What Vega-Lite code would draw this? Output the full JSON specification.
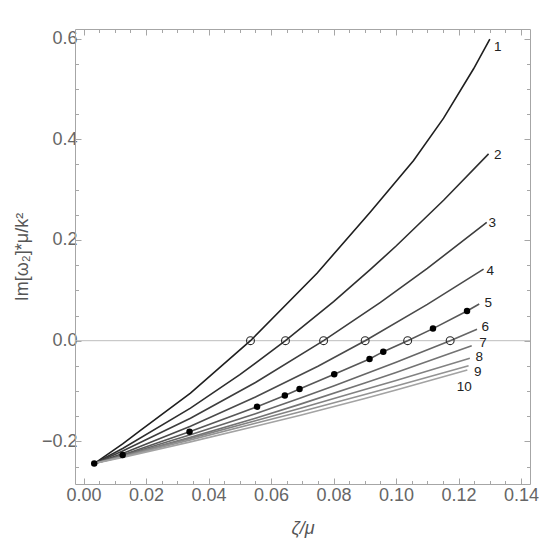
{
  "$schema": "https://vega.github.io/schema/vega-lite/v6.json",
  "width": 455,
  "height": 455,
  "autosize": {"type": "none"},
  "padding": {"left": 75, "top": 29, "right": 30, "bottom": 58},
  "background": "white",
  "config": {
    "view": {"stroke": null},
    "axis": {
      "grid": false,
      "domainColor": "#a6a6a6",
      "tickColor": "#a6a6a6",
      "labelFont": "Liberation Sans",
      "labelFontSize": 18,
      "labelColor": "#666666",
      "titleFont": "Liberation Sans",
      "titleFontSize": 18,
      "titleColor": "#555555",
      "titleFontWeight": "normal",
      "labelOverlap": false,
      "labelFlush": false
    }
  },
  "datasets": {
    "curves": [
      {"curve": 1, "x": 0.0034, "y": -0.244}, {"curve": 1, "x": 0.0125, "y": -0.205}, {"curve": 1, "x": 0.0182, "y": -0.178}, {"curve": 1, "x": 0.0342, "y": -0.104}, {"curve": 1, "x": 0.0534, "y": 0.0}, {"curve": 1, "x": 0.0747, "y": 0.134}, {"curve": 1, "x": 0.0917, "y": 0.255}, {"curve": 1, "x": 0.1056, "y": 0.358}, {"curve": 1, "x": 0.1152, "y": 0.442}, {"curve": 1, "x": 0.1248, "y": 0.540}, {"curve": 1, "x": 0.130, "y": 0.599},
      {"curve": 2, "x": 0.0034, "y": -0.244}, {"curve": 2, "x": 0.0125, "y": -0.214}, {"curve": 2, "x": 0.0342, "y": -0.134}, {"curve": 2, "x": 0.050, "y": -0.0675}, {"curve": 2, "x": 0.0646, "y": 0.0}, {"curve": 2, "x": 0.080, "y": 0.0775}, {"curve": 2, "x": 0.0917, "y": 0.141}, {"curve": 2, "x": 0.100, "y": 0.188}, {"curve": 2, "x": 0.1152, "y": 0.279}, {"curve": 2, "x": 0.1296, "y": 0.371},
      {"curve": 3, "x": 0.0034, "y": -0.244}, {"curve": 3, "x": 0.0125, "y": -0.219}, {"curve": 3, "x": 0.0342, "y": -0.154}, {"curve": 3, "x": 0.055, "y": -0.083}, {"curve": 3, "x": 0.0768, "y": 0.0}, {"curve": 3, "x": 0.095, "y": 0.076}, {"curve": 3, "x": 0.110, "y": 0.1435}, {"curve": 3, "x": 0.129, "y": 0.235},
      {"curve": 4, "x": 0.0034, "y": -0.244}, {"curve": 4, "x": 0.0125, "y": -0.224}, {"curve": 4, "x": 0.0342, "y": -0.170}, {"curve": 4, "x": 0.055, "y": -0.112}, {"curve": 4, "x": 0.075, "y": -0.0506}, {"curve": 4, "x": 0.0901, "y": 0.0}, {"curve": 4, "x": 0.110, "y": 0.072}, {"curve": 4, "x": 0.128, "y": 0.142},
      {"curve": 5, "x": 0.0034, "y": -0.244}, {"curve": 5, "x": 0.0125, "y": -0.227}, {"curve": 5, "x": 0.0339, "y": -0.181}, {"curve": 5, "x": 0.0555, "y": -0.131}, {"curve": 5, "x": 0.0644, "y": -0.109}, {"curve": 5, "x": 0.0691, "y": -0.096}, {"curve": 5, "x": 0.0802, "y": -0.0668}, {"curve": 5, "x": 0.0915, "y": -0.0364}, {"curve": 5, "x": 0.0959, "y": -0.0218}, {"curve": 5, "x": 0.1037, "y": 0.0}, {"curve": 5, "x": 0.1118, "y": 0.024}, {"curve": 5, "x": 0.1227, "y": 0.059}, {"curve": 5, "x": 0.1266, "y": 0.073},
      {"curve": 6, "x": 0.0034, "y": -0.244}, {"curve": 6, "x": 0.0125, "y": -0.228}, {"curve": 6, "x": 0.0342, "y": -0.187}, {"curve": 6, "x": 0.055, "y": -0.145}, {"curve": 6, "x": 0.0694, "y": -0.114}, {"curve": 6, "x": 0.080, "y": -0.090}, {"curve": 6, "x": 0.100, "y": -0.043}, {"curve": 6, "x": 0.1173, "y": 0.0}, {"curve": 6, "x": 0.1259, "y": 0.0226},
      {"curve": 7, "x": 0.0034, "y": -0.244}, {"curve": 7, "x": 0.0125, "y": -0.229}, {"curve": 7, "x": 0.0342, "y": -0.192}, {"curve": 7, "x": 0.055, "y": -0.154}, {"curve": 7, "x": 0.0694, "y": -0.126}, {"curve": 7, "x": 0.090, "y": -0.084}, {"curve": 7, "x": 0.100, "y": -0.063}, {"curve": 7, "x": 0.1242, "y": -0.010},
      {"curve": 8, "x": 0.0034, "y": -0.244}, {"curve": 8, "x": 0.0125, "y": -0.2295}, {"curve": 8, "x": 0.0342, "y": -0.194}, {"curve": 8, "x": 0.055, "y": -0.159}, {"curve": 8, "x": 0.0694, "y": -0.134}, {"curve": 8, "x": 0.090, "y": -0.097}, {"curve": 8, "x": 0.100, "y": -0.079}, {"curve": 8, "x": 0.1236, "y": -0.035},
      {"curve": 9, "x": 0.0034, "y": -0.244}, {"curve": 9, "x": 0.0125, "y": -0.2304}, {"curve": 9, "x": 0.0342, "y": -0.197}, {"curve": 9, "x": 0.055, "y": -0.164}, {"curve": 9, "x": 0.0694, "y": -0.141}, {"curve": 9, "x": 0.090, "y": -0.107}, {"curve": 9, "x": 0.100, "y": -0.090}, {"curve": 9, "x": 0.1232, "y": -0.0496},
      {"curve": 10, "x": 0.0034, "y": -0.244}, {"curve": 10, "x": 0.0125, "y": -0.2317}, {"curve": 10, "x": 0.0342, "y": -0.201}, {"curve": 10, "x": 0.055, "y": -0.170}, {"curve": 10, "x": 0.0694, "y": -0.148}, {"curve": 10, "x": 0.090, "y": -0.115}, {"curve": 10, "x": 0.100, "y": -0.098}, {"curve": 10, "x": 0.1228, "y": -0.058}
    ],
    "crossings": [
      {"curve": 1, "x": 0.0534, "y": 0}, {"curve": 2, "x": 0.0646, "y": 0}, {"curve": 3, "x": 0.0768, "y": 0},
      {"curve": 4, "x": 0.0901, "y": 0}, {"curve": 5, "x": 0.1037, "y": 0}, {"curve": 6, "x": 0.1173, "y": 0}
    ],
    "dots": [
      {"x": 0.0034, "y": -0.244}, {"x": 0.0125, "y": -0.227}, {"x": 0.0339, "y": -0.181}, {"x": 0.0555, "y": -0.131},
      {"x": 0.0644, "y": -0.109}, {"x": 0.0691, "y": -0.096}, {"x": 0.0802, "y": -0.0668}, {"x": 0.0915, "y": -0.0364},
      {"x": 0.0959, "y": -0.0218}, {"x": 0.1118, "y": 0.024}, {"x": 0.1227, "y": 0.059}
    ],
    "labels": [
      {"label": "1", "x": 0.1325, "y": 0.584}, {"label": "2", "x": 0.1325, "y": 0.369}, {"label": "3", "x": 0.1308, "y": 0.233},
      {"label": "4", "x": 0.1301, "y": 0.139}, {"label": "5", "x": 0.1295, "y": 0.0743}, {"label": "6", "x": 0.1285, "y": 0.0262},
      {"label": "7", "x": 0.1278, "y": -0.0050}, {"label": "8", "x": 0.1266, "y": -0.0330}, {"label": "9", "x": 0.1261, "y": -0.0625},
      {"label": "10", "x": 0.1218, "y": -0.092}
    ],
    "zero": [{"y": 0}]
  },
  "layer": [
    {
      "data": {"name": "zero"},
      "mark": {"type": "rule", "color": "#bdbdbd", "strokeWidth": 1},
      "encoding": {
        "y": {"field": "y", "type": "quantitative", "scale": {"domain": [-0.2846, 0.619], "nice": false, "zero": false}, "axis": null}
      }
    },
    {
      "data": {"name": "curves"},
      "mark": {"type": "line", "strokeWidth": 1.6},
      "encoding": {
        "x": {
          "field": "x", "type": "quantitative",
          "scale": {"domain": [-0.00275, 0.14285], "nice": false, "zero": false},
          "axis": {
            "orient": "bottom",
            "values": [0, 0.005, 0.01, 0.015, 0.02, 0.025, 0.03, 0.035, 0.04, 0.045, 0.05, 0.055, 0.06, 0.065, 0.07, 0.075, 0.08, 0.085, 0.09, 0.095, 0.1, 0.105, 0.11, 0.115, 0.12, 0.125, 0.13, 0.135, 0.14],
            "tickSize": {"condition": {"test": "abs(datum.value*50-round(datum.value*50))<1e-6", "value": -6}, "value": -3.5},
            "labelExpr": "abs(datum.value*50-round(datum.value*50))<1e-6 ? format(datum.value,'.2f') : ''",
            "labelPadding": 8,
            "title": "ζ/μ",
            "titleFontStyle": "italic",
            "titlePadding": 13
          }
        },
        "y": {
          "field": "y", "type": "quantitative",
          "scale": {"domain": [-0.2846, 0.619], "nice": false, "zero": false},
          "axis": {
            "orient": "left",
            "values": [-0.25, -0.2, -0.15, -0.1, -0.05, 0, 0.05, 0.1, 0.15, 0.2, 0.25, 0.3, 0.35, 0.4, 0.45, 0.5, 0.55, 0.6],
            "tickSize": {"condition": {"test": "abs(datum.value*5-round(datum.value*5))<1e-6", "value": -6}, "value": -3.5},
            "labelExpr": "abs(datum.value*5-round(datum.value*5))<1e-6 ? format(datum.value,'.1f') : ''",
            "labelPadding": 4,
            "title": "Im[ω₂]*μ/k²",
            "titlePadding": 10
          }
        },
        "color": {
          "field": "curve", "type": "nominal",
          "scale": {"domain": [1, 2, 3, 4, 5, 6, 7, 8, 9, 10], "range": ["#1f1f1f", "#2e2e2e", "#3d3d3d", "#4a4a4a", "#575757", "#666666", "#737373", "#828282", "#939393", "#a3a3a3"]},
          "legend": null
        }
      }
    },
    {
      "data": {"name": "crossings"},
      "mark": {"type": "point", "shape": "circle", "filled": false, "size": 62, "stroke": "#2a2a2a", "strokeWidth": 1.1, "opacity": 1},
      "encoding": {
        "x": {
          "field": "x", "type": "quantitative",
          "scale": {"domain": [-0.00275, 0.14285], "nice": false, "zero": false},
          "axis": {
            "orient": "top",
            "values": [0, 0.005, 0.01, 0.015, 0.02, 0.025, 0.03, 0.035, 0.04, 0.045, 0.05, 0.055, 0.06, 0.065, 0.07, 0.075, 0.08, 0.085, 0.09, 0.095, 0.1, 0.105, 0.11, 0.115, 0.12, 0.125, 0.13, 0.135, 0.14],
            "tickSize": {"condition": {"test": "abs(datum.value*50-round(datum.value*50))<1e-6", "value": -6}, "value": -3.5},
            "labels": false,
            "title": null
          }
        },
        "y": {
          "field": "y", "type": "quantitative",
          "scale": {"domain": [-0.2846, 0.619], "nice": false, "zero": false},
          "axis": {
            "orient": "right",
            "values": [-0.25, -0.2, -0.15, -0.1, -0.05, 0, 0.05, 0.1, 0.15, 0.2, 0.25, 0.3, 0.35, 0.4, 0.45, 0.5, 0.55, 0.6],
            "tickSize": {"condition": {"test": "abs(datum.value*5-round(datum.value*5))<1e-6", "value": -6}, "value": -3.5},
            "labels": false,
            "title": null
          }
        }
      }
    },
    {
      "data": {"name": "dots"},
      "mark": {"type": "point", "shape": "circle", "filled": true, "size": 42, "color": "#000000", "opacity": 1},
      "encoding": {
        "x": {"field": "x", "type": "quantitative", "axis": null},
        "y": {"field": "y", "type": "quantitative", "axis": null}
      }
    },
    {
      "data": {"name": "labels"},
      "mark": {"type": "text", "font": "Liberation Sans", "fontSize": 13.5, "color": "#222222", "align": "center", "baseline": "middle"},
      "encoding": {
        "x": {"field": "x", "type": "quantitative", "axis": null},
        "y": {"field": "y", "type": "quantitative", "axis": null},
        "text": {"field": "label"}
      }
    }
  ],
  "resolve": {"axis": {"x": "independent", "y": "independent"}}
}
